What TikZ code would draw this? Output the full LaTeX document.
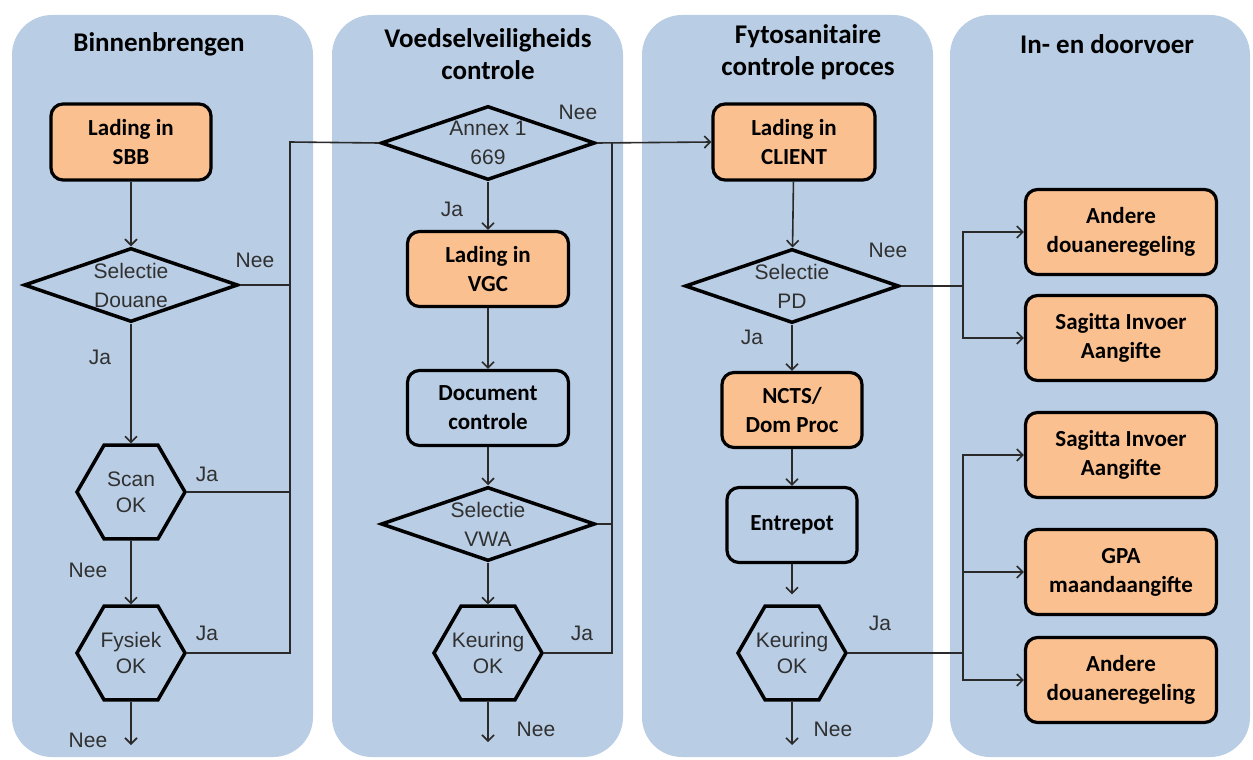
\documentclass[tikz,border=0pt]{standalone}
\usepackage{fontspec}
\setmainfont{Carlito}
\newfontfamily\arialfont{Liberation Sans}
\usetikzlibrary{shapes.geometric, arrows.meta}

\definecolor{lanebg}{HTML}{B9CDE5}
\definecolor{ladingorange}{HTML}{FAC090}
\definecolor{linegray}{HTML}{2A2A2A}
\definecolor{textgray}{HTML}{303030}

\begin{document}
\begin{tikzpicture}[x=1pt, y=-1pt,
    lane/.style={fill=lanebg, rounded corners=40pt},
    title/.style={font=\fontsize{27}{32}\selectfont\bfseries, align=center},
    proc/.style={draw, line width=3.2pt, rounded corners=12pt, align=center, inner sep=0pt,
      font=\fontsize{23}{29}\selectfont\bfseries},
    lading/.style={proc, fill=ladingorange},
    decision/.style={diamond, aspect=2.9, draw, line width=3.5pt, minimum width=214pt, minimum height=74pt,
      inner sep=-4pt, align=center, text=textgray, font=\arialfont\fontsize{21}{29}\selectfont},
    check/.style={regular polygon, regular polygon sides=6, draw, line width=3.5pt, minimum size=108pt,
      inner sep=-10pt, align=center, text=textgray, font=\arialfont\fontsize{21}{26}\selectfont},
    lbl/.style={font=\arialfont\fontsize{21}{24}\selectfont, text=textgray},
    flow/.style={-{Straight Barb[length=6pt, width=12pt]}, line width=1.6pt, draw=linegray},
    link/.style={line width=1.6pt, draw=linegray}]

  \useasboundingbox[fill=white] (0,0) rectangle (1253,760);

  % Lanes
  \path[lane] (12,15) rectangle (313,757);
  \path[lane] (332,15) rectangle (623,757);
  \path[lane] (642,15) rectangle (933,757);
  \path[lane] (950,15) rectangle (1250,757);

  % Lane titles
  \node[title] (t1) at (159,44) {Binnenbrengen};
  \node[title] (t2) at (488,54) {Voedselveiligheids\\controle};
  \node[title] (t3) at (808,52) {Fytosanitaire\\controle proces};
  \node[title] (t4) at (1107,44) {In- en doorvoer};

  % Binnenbrengen
  \node[lading, minimum width=160pt, minimum height=76pt] (sbb) at (131,142) {Lading in\\SBB};
  \node[decision] (selD) at (131,285) {Selectie\\Douane};
  \node[check] (scan) at (131,492) {Scan\\OK};
  \node[check] (fysiek) at (131,653) {Fysiek\\OK};
  \coordinate (out1) at (131,745);
  \coordinate (bus1) at (290,142);

  % Voedselveiligheids controle
  \node[decision] (annex) at (488,143) {Annex 1\\669};
  \node[lading, minimum width=161pt, minimum height=75pt] (vgc) at (488,269) {Lading in\\VGC};
  \node[proc, minimum width=161pt, minimum height=75pt] (doc) at (488,408) {Document\\controle};
  \node[decision] (vwa) at (488,524) {Selectie\\VWA};
  \node[check] (keur2) at (488,653) {Keuring\\OK};
  \coordinate (out2) at (488,742);
  \coordinate (bus2) at (612,142);

  % Fytosanitaire controle proces
  \node[lading, minimum width=162pt, minimum height=76pt] (client) at (794,142) {Lading in\\CLIENT};
  \node[decision] (selPD) at (792,286) {Selectie\\PD};
  \node[lading, minimum width=140pt, minimum height=75pt] (ncts) at (792,410) {NCTS/\\Dom Proc};
  \node[proc, minimum width=130pt, minimum height=75pt] (entrepot) at (792,525) {Entrepot};
  \node[check] (keur3) at (792,653) {Keuring\\OK};
  \coordinate (out3) at (792,745);

  % In- en doorvoer
  \node[lading, minimum width=191pt, minimum height=85pt] (andere1) at (1121,232) {Andere\\douaneregeling};
  \node[lading, minimum width=191pt, minimum height=85pt] (sag1) at (1121,338) {Sagitta Invoer\\Aangifte};
  \node[lading, minimum width=191pt, minimum height=85pt] (sag2) at (1121,455) {Sagitta Invoer\\Aangifte};
  \node[lading, minimum width=191pt, minimum height=85pt] (gpa) at (1121,572) {GPA\\maandaangifte};
  \node[lading, minimum width=191pt, minimum height=85pt] (andere2) at (1121,680) {Andere\\douaneregeling};
  \coordinate (bus3) at (963,286);
  \coordinate (bus4) at (963,653);

  % Arrows
  \draw[flow] (sbb) -- (selD);
  \draw[flow] (selD) -- (scan);
  \draw[flow] (scan) -- (fysiek);
  \draw[flow] (fysiek) -- (out1);
  \draw[link] (selD.east) -- (selD.east -| bus1);
  \draw[link] (scan.east) -- (scan.east -| bus1);
  \draw[link] (fysiek.east) -| (bus1) -- (annex.west);

  \draw[flow] (annex) -- (vgc);
  \draw[flow] (vgc) -- (doc);
  \draw[flow] (doc) -- (vwa);
  \draw[flow] (vwa) -- (keur2);
  \draw[flow] (keur2) -- (out2);
  \draw[flow] (annex.east) -- (client.west);
  \draw[link] (vwa.east) -- (vwa.east -| bus2);
  \draw[link] (keur2.east) -| (bus2);

  \draw[flow] (client) -- (selPD);
  \draw[flow] (selPD) -- (ncts);
  \draw[flow] (ncts) -- (entrepot);
  \draw[flow, shorten >=10pt] (entrepot) -- (keur3);
  \draw[flow] (keur3) -- (out3);

  % Naar in- en doorvoer
  \draw[link] (selPD.east) -- (bus3);
  \draw[flow] (bus3) |- (andere1.west);
  \draw[flow] (bus3) |- (sag1.west);
  \draw[link] (keur3.east) -- (bus4);
  \draw[flow] (bus4) |- (sag2.west);
  \draw[flow] (bus4) |- (gpa.west);
  \draw[flow] (bus4) |- (andere2.west);

  % Labels
  \node[lbl] (n1) at (255,260) {Nee};
  \node[lbl] (j1) at (100,357) {Ja};
  \node[lbl] (j2) at (207,474) {Ja};
  \node[lbl] (n2) at (88,570) {Nee};
  \node[lbl] (j3) at (207,633) {Ja};
  \node[lbl] (n3) at (88,740) {Nee};
  \node[lbl] (n4) at (578,112) {Nee};
  \node[lbl] (j4) at (452,209) {Ja};
  \node[lbl] (j5) at (582,633) {Ja};
  \node[lbl] (n5) at (536,729) {Nee};
  \node[lbl] (n6) at (888,250) {Nee};
  \node[lbl] (j6) at (752,337) {Ja};
  \node[lbl] (j7) at (880,623) {Ja};
  \node[lbl] (n7) at (833,729) {Nee};

\end{tikzpicture}
\end{document}
